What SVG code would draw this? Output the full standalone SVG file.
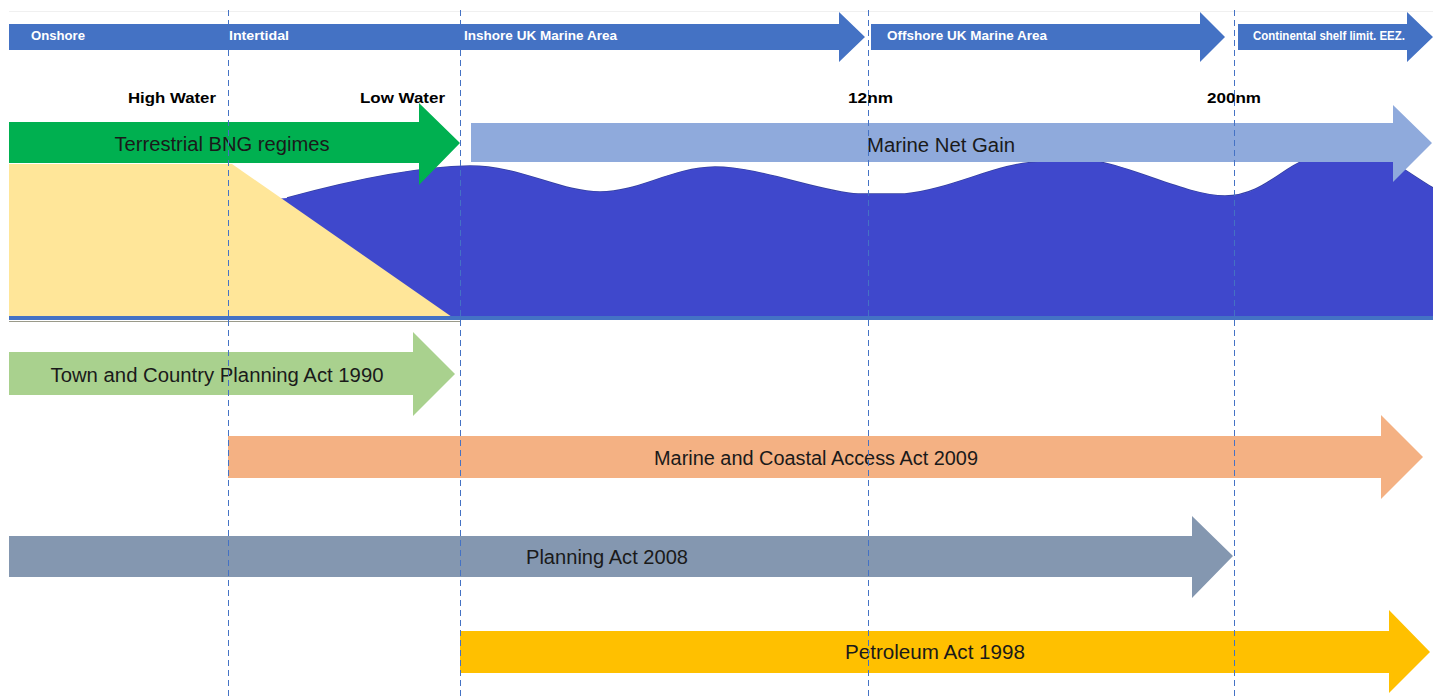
<svg xmlns="http://www.w3.org/2000/svg" width="1433" height="699" viewBox="0 0 1433 699">
<style>
.band{fill:#4472C4}
.bandtxt{font-family:"Liberation Sans",Arial,sans-serif;font-weight:bold;font-size:13px;fill:#ffffff}
.mark{font-family:"Liberation Sans",Arial,sans-serif;font-weight:bold;font-size:15px;fill:#000000}
.lbl{font-family:"Liberation Sans",Arial,sans-serif;font-size:20px;fill:#1a1a1a;text-anchor:middle}
.guide{stroke:#4472C4;stroke-width:1;stroke-dasharray:6 4;fill:none}
</style>
<rect x="0" y="0" width="1433" height="699" fill="#ffffff"/>
<line x1="9" y1="11.5" x2="1433" y2="11.5" stroke="#f0f0f0" stroke-width="1"/>

<g id="sea">
<path d="M287,198 C360,178 420,167 470,166 C520,166 560,192 600,192 C640,192 670,168 715,167 C760,167 820,192 858,194 L905,194 C950,190 1000,162 1040,162 L1100,162 C1140,170 1190,196 1225,196 C1260,196 1280,170 1305,160 L1390,160 C1405,170 1420,180 1433,188 L1433,317 L452,317" fill="none" stroke="#34409f" stroke-width="1.5"/>
<path d="M287,198 C360,178 420,167 470,166 C520,166 560,192 600,192 C640,192 670,168 715,167 C760,167 820,192 858,194 L905,194 C950,190 1000,162 1040,162 L1100,162 C1140,170 1190,196 1225,196 C1260,196 1280,170 1305,160 L1390,160 C1405,170 1420,180 1433,188 L1433,317 L420,317 L260,200 Z" fill="#3F48CC"/>
</g>
<g id="land">
<polygon points="9,164 232,164 452,317 9,317" fill="#FFE699"/>
</g>
<g id="seabed">
<line x1="9" y1="318" x2="1433" y2="318" stroke="#4472C4" stroke-width="4"/>
<line x1="9" y1="321.5" x2="460" y2="321.5" stroke="#9a9a8a" stroke-width="1"/>
</g>

<g id="terrestrial-bng">
<polygon points="9,122 419,122 419,103 460,143 419,185 419,163 9,163" fill="#00B050"/>
<text class="lbl" x="222" y="151" textLength="215" lengthAdjust="spacingAndGlyphs">Terrestrial BNG regimes</text>
</g>
<g id="marine-net-gain">
<polygon points="471,123 1393,123 1393,105 1432,143 1393,182 1393,162 471,162" fill="#8FAADC"/>
<text class="lbl" x="941" y="152" textLength="148" lengthAdjust="spacingAndGlyphs">Marine Net Gain</text>
</g>
<g id="tcpa-1990">
<polygon points="9,352 413,352 413,332 455,374 413,416 413,395 9,395" fill="#A9D18E"/>
<text class="lbl" x="217" y="382" textLength="333" lengthAdjust="spacingAndGlyphs">Town and Country Planning Act 1990</text>
</g>
<g id="mcaa-2009">
<polygon points="228,436 1381,436 1381,415 1423,457 1381,499 1381,478 228,478" fill="#F4B183"/>
<text class="lbl" x="816" y="465" textLength="324" lengthAdjust="spacingAndGlyphs">Marine and Coastal Access Act 2009</text>
</g>
<g id="planning-act-2008">
<polygon points="9,536 1192,536 1192,516 1233,556 1192,598 1192,577 9,577" fill="#8497B0"/>
<text class="lbl" x="607" y="564" textLength="162" lengthAdjust="spacingAndGlyphs">Planning Act 2008</text>
</g>
<g id="petroleum-act-1998">
<polygon points="460,631 1389,631 1389,610 1430,652 1389,693 1389,673 460,673" fill="#FFC000"/>
<text class="lbl" x="935" y="659" textLength="180" lengthAdjust="spacingAndGlyphs">Petroleum Act 1998</text>
</g>

<g id="connectors">
<line class="guide" x1="228.5" y1="10" x2="228.5" y2="699"/>
<line class="guide" x1="460.5" y1="10" x2="460.5" y2="699"/>
<line class="guide" x1="868.5" y1="10" x2="868.5" y2="699"/>
<line class="guide" x1="1234.5" y1="10" x2="1234.5" y2="699"/>
</g>

<g id="zone-inshore">
<polygon class="band" points="9,24 839,24 839,12 865,37 839,62 839,50 9,50"/>
<text class="bandtxt" x="31" y="40" textLength="54" lengthAdjust="spacingAndGlyphs">Onshore</text>
<text class="bandtxt" x="229" y="40" textLength="60" lengthAdjust="spacingAndGlyphs">Intertidal</text>
<text class="bandtxt" x="464" y="40" textLength="153" lengthAdjust="spacingAndGlyphs">Inshore UK Marine Area</text>
</g>
<g id="zone-offshore">
<polygon class="band" points="871,24 1200,24 1200,12 1225,37 1200,62 1200,50 871,50"/>
<text class="bandtxt" x="887" y="40" textLength="160" lengthAdjust="spacingAndGlyphs">Offshore UK Marine Area</text>
</g>
<g id="zone-continental">
<polygon class="band" points="1238,24 1407,24 1407,12 1433,37 1407,62 1407,50 1238,50"/>
<text class="bandtxt" x="1253" y="40" font-size="11" textLength="152" lengthAdjust="spacingAndGlyphs">Continental shelf limit. EEZ.</text>
</g>

<g id="marks">
<text class="mark" x="128" y="103" textLength="88" lengthAdjust="spacingAndGlyphs">High Water</text>
<text class="mark" x="360" y="103" textLength="85" lengthAdjust="spacingAndGlyphs">Low Water</text>
<text class="mark" x="848" y="103" textLength="45" lengthAdjust="spacingAndGlyphs">12nm</text>
<text class="mark" x="1207" y="103" textLength="54" lengthAdjust="spacingAndGlyphs">200nm</text>
</g>
</svg>
